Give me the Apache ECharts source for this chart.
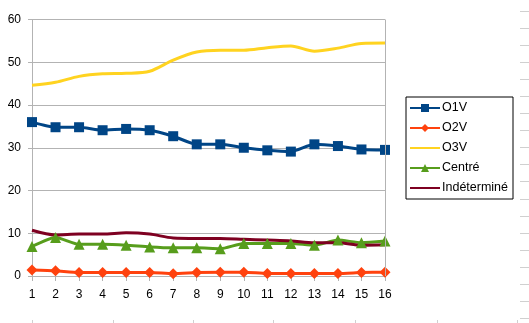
<!DOCTYPE html>
<html><head><meta charset="utf-8">
<script src="https://cdn.jsdelivr.net/npm/echarts@6/dist/echarts.min.js"></script>
<style>html,body{margin:0;padding:0;background:#fff}#c{width:529px;height:323px}</style>
</head><body><div id="c"></div>
<script>
const categories = ['1','2','3','4','5','6','7','8','9','10','11','12','13','14','15','16'];
const o1v = [36.0,34.8,34.8,34.1,34.4,34.1,32.7,30.8,30.8,30.0,29.4,29.1,30.8,30.4,29.6,29.5];
const o2v = [1.4,1.2,0.8,0.8,0.8,0.8,0.55,0.8,0.9,0.9,0.6,0.6,0.6,0.6,0.8,0.9];
const o3v = [44.6,45.3,46.7,47.3,47.4,47.9,50.5,52.4,52.8,52.8,53.4,53.8,52.6,53.3,54.4,54.5];
const centre = [6.9,9.0,7.4,7.4,7.2,6.8,6.6,6.6,6.4,7.6,7.6,7.6,7.2,8.4,7.8,8.2];
const indet = [10.7,9.6,9.8,9.8,10.1,9.8,8.9,8.8,8.8,8.6,8.4,8.2,7.8,7.8,7.2,7.3];
const seriesNames = ['O1V','O2V','O3V','Centré','Indéterminé'];
const colors = ['#004586','#ff420e','#ffd320','#579d1c','#7e0021'];

const chart = echarts.init(document.getElementById('c'));
const font = 'Liberation Sans, Arial, sans-serif';
const decor = [];
for (let y = 10.5; y < 323; y += 17.1) {
  decor.push({type:'line', shape:{x1:520,y1:Math.round(y)+0.5,x2:529,y2:Math.round(y)+0.5}, style:{stroke:'#d0d0d0',lineWidth:1}, silent:true});
}
[32,113,193,273,355,437,517].forEach(x => {
  decor.push({type:'line', shape:{x1:x+0.5,y1:320,x2:x+0.5,y2:323}, style:{stroke:'#d0d0d0',lineWidth:1}, silent:true});
});
function mk(name, data, color, symbol, size, smooth) {
  return {
    name, type:'line', data, smooth,
    symbol: symbol || 'none', symbolSize: size, showSymbol: !!symbol,
    lineStyle:{color, width:3}, itemStyle:{color},
    animation:false
  };
}
const legendData = seriesNames.map((n, i) => (i === 2 || i === 4)
  ? {name:n, itemStyle:{opacity:0}} : {name:n});
chart.setOption({
  animation:false,
  grid:{left:32, right:144, top:19.5, bottom:47},
  graphic: decor,
  legend:{
    orient:'vertical', left:406, top:97, width:106,
    borderColor:'#000', borderWidth:1,
    padding:[4,5,4,3],
    itemWidth:30, itemHeight:10, itemGap:6,
    textStyle:{fontFamily:font, fontSize:12.5, color:'#000', padding:[0,0,0,-3], lineHeight:14},
    data: legendData
  },
  xAxis:{
    type:'category', data:categories, boundaryGap:false,
    axisLine:{show:true, lineStyle:{color:'#b3b3b3'}},
    axisTick:{show:true, length:5, lineStyle:{color:'#b3b3b3'}, alignWithLabel:true},
    axisLabel:{fontFamily:font, fontSize:12, color:'#000', margin:13},
    splitLine:{show:false}
  },
  yAxis:{
    type:'value', min:0, max:60, interval:10,
    axisLine:{show:true, lineStyle:{color:'#b3b3b3'}},
    axisTick:{show:true, length:4, inside:false, lineStyle:{color:'#b3b3b3'}},
    axisLabel:{fontFamily:font, fontSize:12, color:'#000', margin:11},
    splitLine:{show:true, lineStyle:{color:'#b3b3b3'}}
  },
  series:[
    mk('O1V', o1v, colors[0], 'rect', 10, 0.2),
    mk('O2V', o2v, colors[1], 'diamond', 11, 0.2),
    mk('O3V', o3v, colors[2], null, 0, 0.3),
    mk('Centré', centre, colors[3], 'triangle', 11, 0.2),
    mk('Indéterminé', indet, colors[4], null, 0, 0.3),
    {type:'line', data:[], markLine:{silent:true, symbol:'none', label:{show:false},
      lineStyle:{color:'#b3b3b3', type:'solid', width:1}, data:[{xAxis:'16'}]}}
  ]
});
</script></body></html>
